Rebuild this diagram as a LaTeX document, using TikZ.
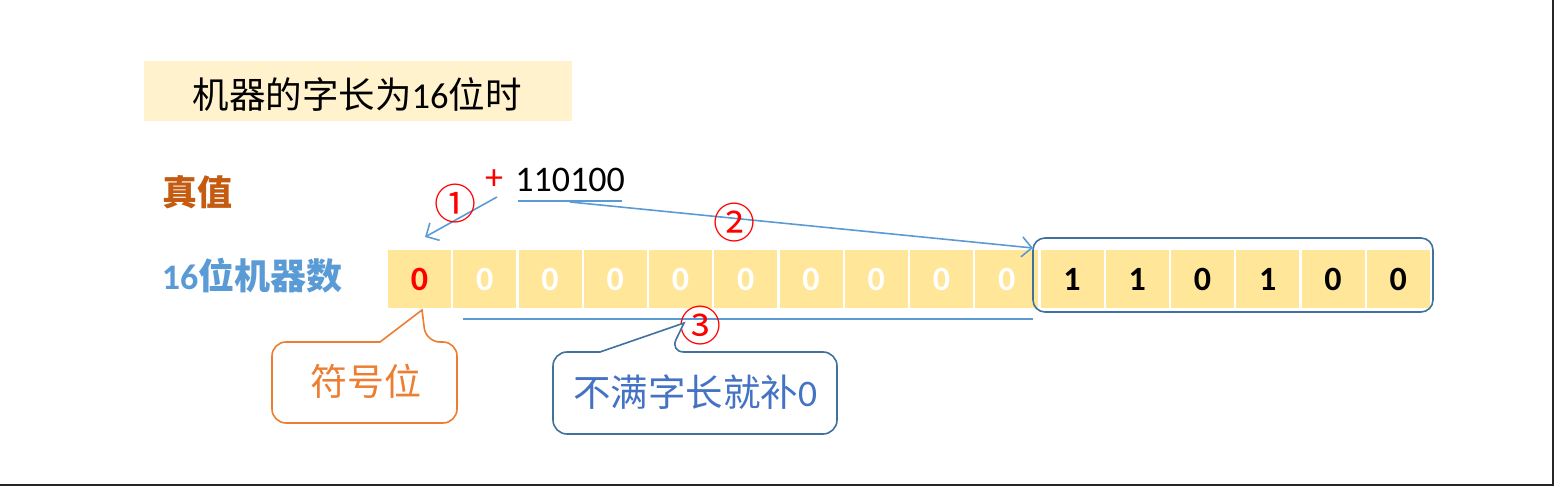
\documentclass[tikz,border=0pt]{standalone}
\usepackage{fontspec}
\setmainfont{Carlito}
\newfontfamily\cjk{Noto Sans CJK SC}
\usetikzlibrary{arrows.meta}
\definecolor{cellfill}{HTML}{FFE699}
\definecolor{titlefill}{HTML}{FFF2CC}
\definecolor{lblue}{HTML}{5B9BD5}
\definecolor{dblue}{HTML}{41719C}
\definecolor{tblue}{HTML}{4472C4}
\definecolor{orng}{HTML}{ED7D31}
\definecolor{brwn}{HTML}{C55A11}
\definecolor{frame}{HTML}{262626}
\tikzset{
  cell/.style={fill=cellfill, minimum width=63pt, minimum height=58pt, inner sep=0pt,
    font=\fontsize{34}{40}\selectfont\bfseries},
  conn/.style={draw=lblue, line width=1.6pt},
  arr/.style={conn, -{Straight Barb[length=10pt,width=20pt,line width=1.6pt]}},
  circnum/.style={text=red, font=\cjk\fontsize{42}{46}\selectfont, inner sep=0pt},
  lbl/.style={inner sep=0pt, font=\fontsize{36}{42}\selectfont},
}
\begin{document}
\begin{tikzpicture}[x=1pt,y=-1pt]
\useasboundingbox (0,0) rectangle (1554,486);
% frame
\draw[frame, line width=2pt] (1552.5,0) -- (1552.5,485) -- (0,485);
% title
\node[fill=titlefill, minimum width=428pt, minimum height=60pt, inner sep=0pt] (title) at (358,91) {};
\node[lbl, font=\fontsize{36.5}{42}\selectfont] (titletext) at (357,95) {{\cjk 机器的字长为}16{\cjk 位时}};
% row labels
\node[lbl, text=brwn, font=\cjk\fontsize{35}{40}\selectfont\bfseries] (zhenzhi) at (197,192) {真值};
\node[lbl, text=lblue, font=\fontsize{36}{42}\selectfont\bfseries] (jiqishu) at (252,276) {16{\cjk 位机器数}};
% true value
\node[lbl, text=red] (plus) at (494,180) {+};
\node[lbl] (val) at (570,180) {110100};
% cells
\foreach \i in {0,...,15} {
  \pgfmathsetmacro{\cx}{419.5+65.25*\i}
  \ifnum\i=0 \def\cc{red}\def\dd{0}\else\ifnum\i<10 \def\cc{white}\def\dd{0}\else\def\cc{black}\fi\fi
  \ifcase\i\or\or\or\or\or\or\or\or\or\or \def\dd{1}\or\def\dd{1}\or\def\dd{0}\or\def\dd{1}\or\def\dd{0}\or\def\dd{0}\fi
  \node[cell, text=\cc] (c\i) at (\cx,279) {\dd};
}
% group box
\node[draw=dblue, line width=1.6pt, rounded corners=12pt, minimum width=400pt, minimum height=74pt] (grp) at (1233,275) {};
% connectors
\coordinate (a1s) at (497,197);
\coordinate (a1e) at (425,237);
\draw[arr] (a1s) -- (a1e);
\node[circnum] (n1) at (455,204) {①};
\coordinate (ul1) at (518,201);
\coordinate (ul2) at (622,201);
\draw[conn] (ul1) -- (ul2);
\coordinate (a2s) at (570,202);
\coordinate (a2e) at (1033,248);
\draw[arr] (a2s) -- (a2e);
\node[circnum] (n2) at (734,223) {②};
\coordinate (l3s) at (463,319);
\coordinate (l3e) at (1033,319);
\draw[conn] (l3s) -- (l3e);
\node[circnum] (n3) at (700,326) {③};
% callouts
\draw[orng, line width=1.6pt, fill=white, rounded corners=14pt]
  (380,342) -- (272,342) -- (272,423) -- (457,423) -- (457,342) -- (426,342)
  [sharp corners] -- (422,310) -- cycle;
\node[lbl, text=orng, font=\cjk\fontsize{37}{42}\selectfont] (fhw) at (366,381) {符号位};
\draw[dblue, line width=1.6pt, fill=white, rounded corners=14pt]
  (600,352) -- (553,352) -- (553,434) -- (837,434) -- (837,352) -- (670,352)
  [sharp corners] -- (684,323) -- cycle;
\node[lbl, text=tblue, font=\fontsize{37.5}{42}\selectfont] (bm) at (695,392) {{\cjk 不满字长就补}0};
\end{tikzpicture}
\end{document}
